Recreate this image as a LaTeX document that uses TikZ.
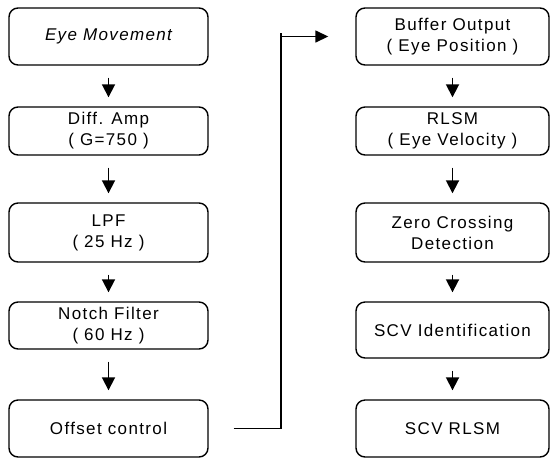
\documentclass[tikz,border=0pt]{standalone}
\usepackage{fontspec}
\setmainfont{Liberation Sans}[LetterSpace=8]
\usetikzlibrary{arrows.meta}

\begin{document}
\begin{tikzpicture}[x=1pt,y=-1pt,
  box/.style={draw,rounded corners=9pt,line width=1.4pt,align=center,inner sep=0pt,
    font=\fontsize{17pt}{21pt}\selectfont},
  lbox/.style={box,minimum width=199pt},
  rbox/.style={box,minimum width=193pt},
  flow/.style={line width=1.8pt,-{Triangle[width=13pt,length=13pt]},shorten <=12pt,shorten >=9pt}]
  \useasboundingbox (0,0) rectangle (551,459);
  \node[lbox,minimum height=57pt] at (108.5,36.5) (l0) {\itshape Eye Movement};
  \node[lbox,minimum height=48pt] at (108.5,131) (l1) {Diff. Amp\\( G=750 )};
  \node[lbox,minimum height=59pt] at (108.5,232.5) (l2) {LPF\\( 25 Hz )};
  \node[lbox,minimum height=47pt] at (108.5,325.5) (l3) {Notch Filter\\( 60 Hz )};
  \node[lbox,minimum height=57pt] at (108.5,428.5) (l4) {Offset control};
  \node[rbox,minimum height=57pt] at (452.5,36.5) (r0) {Buffer Output\\( Eye Position )};
  \node[rbox,minimum height=48pt] at (452.5,131) (r1) {RLSM\\( Eye Velocity )};
  \node[rbox,minimum height=59pt] at (452.5,232.5) (r2) {Zero Crossing\\Detection};
  \node[rbox,minimum height=56pt] at (452.5,330) (r3) {SCV Identification};
  \node[rbox,minimum height=57pt] at (452.5,428.5) (r4) {SCV RLSM};
  \foreach \x/\y in {l0/l1,l1/l2,l2/l3,l3/l4,r0/r1,r1/r2,r2/r3,r3/r4} \draw[flow] (\x) -- (\y);
  \coordinate (turn) at (281,33);
  \draw[line width=1.5pt,-{Triangle[width=12pt,length=13pt]},shorten <=25pt,shorten >=27pt]
    (l4.east) -| (turn) |- (r0.west);
\end{tikzpicture}
\end{document}
